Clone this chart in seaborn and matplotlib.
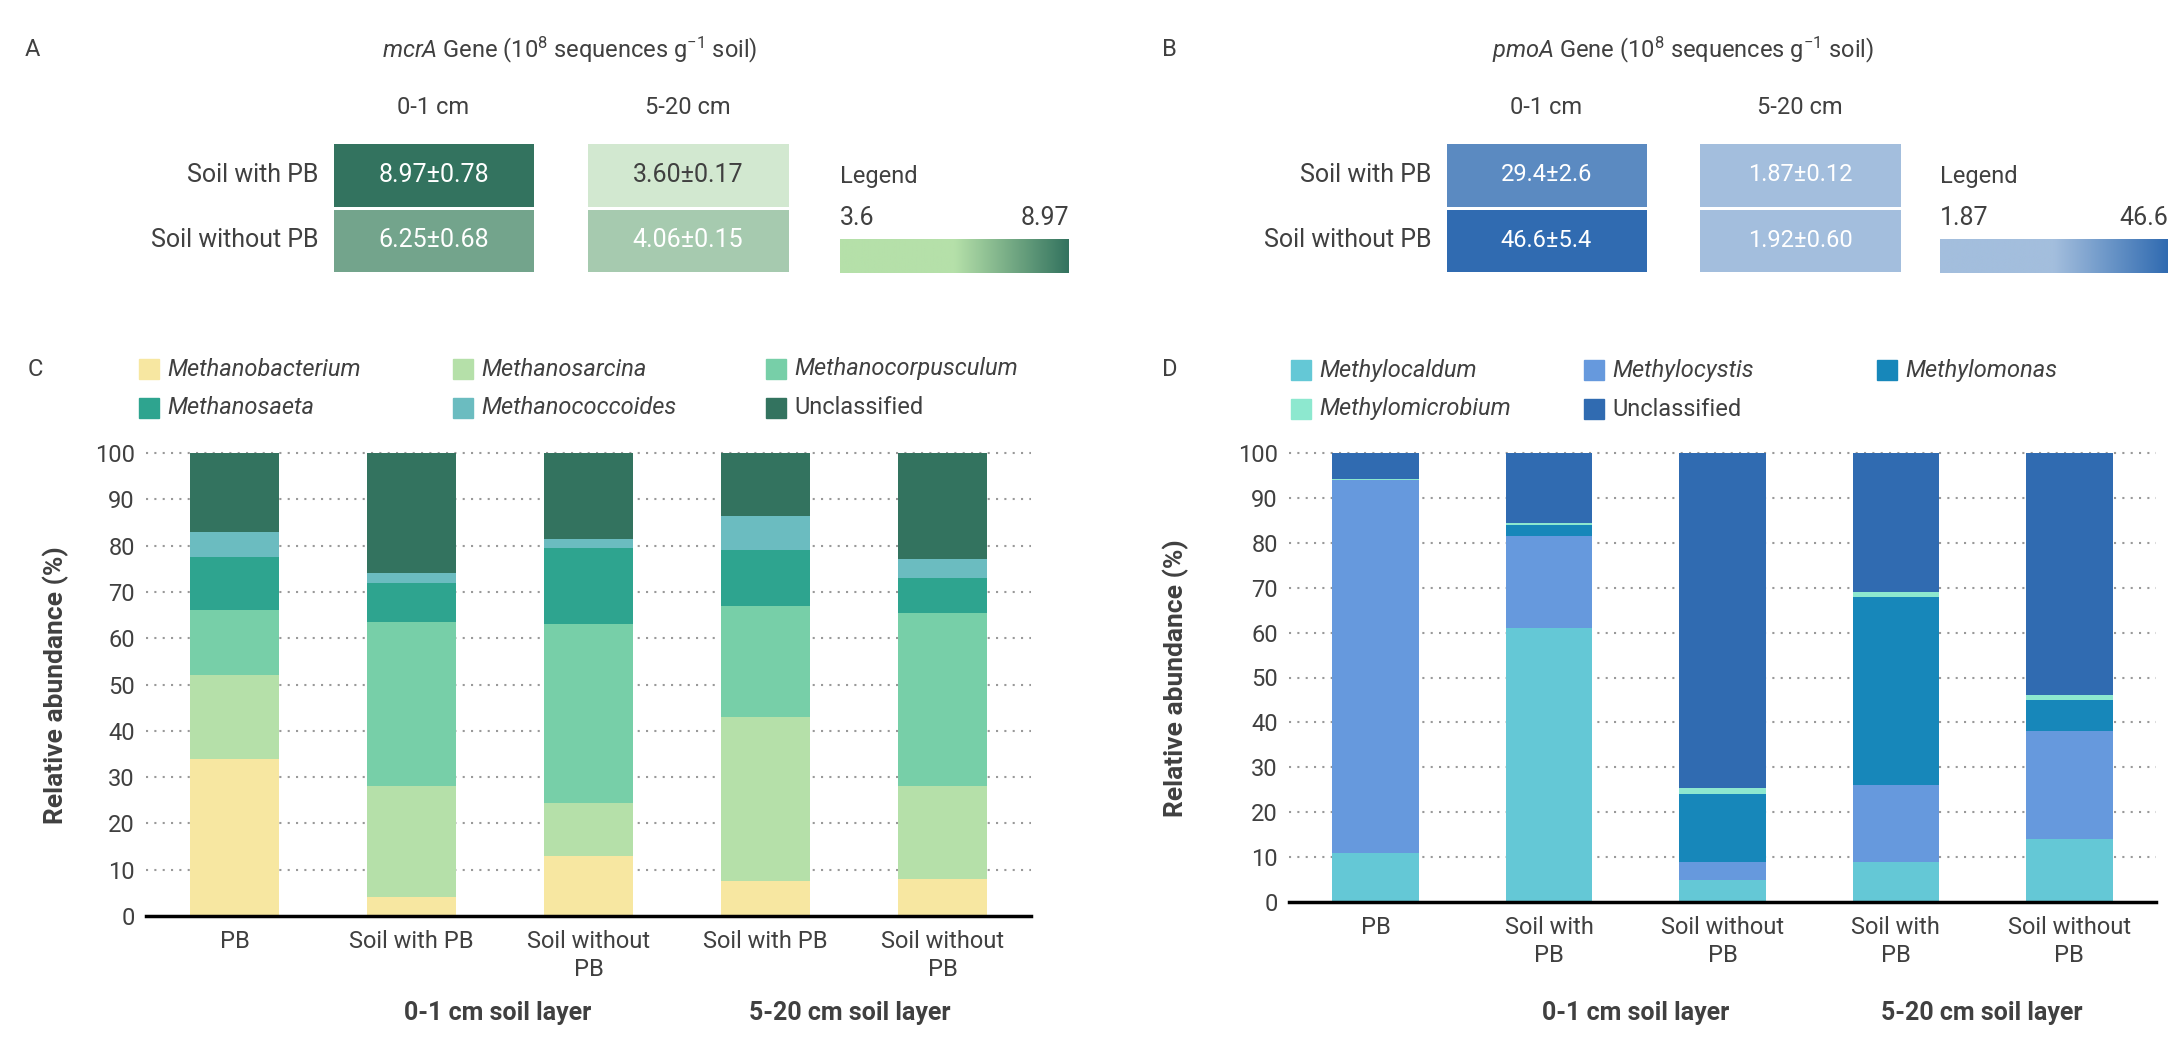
import numpy as np
import pandas as pd
import matplotlib
matplotlib.use("Agg")
import matplotlib.pyplot as plt
import seaborn as sns
from matplotlib.colors import LinearSegmentedColormap
from matplotlib.patches import Patch

sns.set_theme(style="white")
plt.rcParams['font.family'] = ['Roboto', 'DejaVu Sans']
plt.rcParams['mathtext.fontset'] = 'custom'
plt.rcParams['mathtext.rm'] = 'Roboto'
plt.rcParams['mathtext.it'] = 'Roboto:italic'
TXT = '#404040'

# ---------------- data ----------------
heat_rows = ["Soil with PB", "Soil without PB"]
heat_cols = ["0-1 cm", "5-20 cm"]
mcrA_vals = [[8.97, 3.60], [6.25, 4.06]]
mcrA_err = [[0.78, 0.17], [0.68, 0.15]]
mcrA_lbl = [["8.97±0.78", "3.60±0.17"], ["6.25±0.68", "4.06±0.15"]]
pmoA_vals = [[29.4, 1.87], [46.6, 1.92]]
pmoA_lbl = [["29.4±2.6", "1.87±0.12"], ["46.6±5.4", "1.92±0.60"]]

samples = ["PB", "Soil with PB", "Soil without\nPB", "Soil with PB", "Soil without\nPB"]
samples_d = ["PB", "Soil with\nPB", "Soil without\nPB", "Soil with\nPB", "Soil without\nPB"]

mcr_taxa = ["Methanobacterium", "Methanosarcina", "Methanocorpusculum",
            "Methanosaeta", "Methanococcoides", "Unclassified"]
Methanobacterium = [34, 4, 13, 7.5, 8]
Methanosarcina = [18, 24, 11.5, 35.5, 20]
Methanocorpusculum = [14, 35.5, 38.5, 24, 37.5]
Methanosaeta = [11.5, 8.5, 16.5, 12, 7.5]
Methanococcoides = [5.5, 2, 2, 7.5, 4]
Unclassified_mcr = [17, 26, 18.5, 13.5, 23]
mcr_colors = ["#F7E7A1", "#B5E0A9", "#77CFA8", "#2EA48F", "#6BBCC0", "#33735F"]

pmo_taxa = ["Methylocaldum", "Methylocystis", "Methylomonas", "Methylomicrobium", "Unclassified"]
Methylocaldum = [11, 61, 5, 9, 14]
Methylocystis = [83, 20.5, 4, 17, 24]
Methylomonas = [0, 2.5, 15, 42, 7]
Methylomicrobium = [0.3, 0.5, 1.5, 1, 1]
Unclassified_pmo = [5.7, 15.5, 74.5, 31, 54]
pmo_colors = ["#64C8D6", "#6699DD", "#1787BA", "#8DE8CF", "#306BB1"]

W, H = 2184, 1055
fig = plt.figure(figsize=(W / 100, H / 100), dpi=100)

def rect(l, t, r, b):
    return [l / W, 1 - b / H, (r - l) / W, (b - t) / H]

def ftext(x, y, s, **kw):
    kw.setdefault('color', TXT)
    fig.text(x / W, 1 - y / H, s, **kw)

# ---------------- heatmaps ----------------
def heat_panel(vals, lbls, vmap, colx, legx, grad, lo, hi, title, tx, rowx, fs, dark_cells):
    vals = np.array(vals)
    vs = sorted(vmap.keys())
    vmin, vmax = vs[0], vs[-1]
    cmap = LinearSegmentedColormap.from_list(
        "c", [((v - vmin) / (vmax - vmin), vmap[v]) for v in vs])
    for j, (l, r) in enumerate(colx):
        ax = fig.add_axes(rect(l, 142, r, 273))
        df = pd.DataFrame(vals[:, [j]], index=heat_rows, columns=[heat_cols[j]])
        sns.heatmap(df, ax=ax, cmap=cmap, vmin=vmin, vmax=vmax, cbar=False,
                    annot=np.array(lbls)[:, [j]], fmt="", linewidths=1, linecolor='white',
                    annot_kws={'fontsize': fs, 'color': 'white'})
        for k, t in enumerate(ax.texts):
            if (k, j) in dark_cells:
                t.set_color(TXT)
        ax.set_xticks([]); ax.set_ylabel(""); ax.set_xlabel("")
        if j == 0:
            ax.set_yticklabels(heat_rows, rotation=0, fontsize=18, color=TXT)
            ax.tick_params(axis='y', length=0, pad=10)
        else:
            ax.set_yticks([])
        ftext((l + r) / 2, 108, heat_cols[j], ha='center', va='center', fontsize=17)
    lax = fig.add_axes(rect(legx[0], 239, legx[1], 273))
    gcm = LinearSegmentedColormap.from_list("g", grad)
    lax.imshow(np.linspace(0, 1, 256)[None, :], aspect='auto', cmap=gcm)
    lax.set_axis_off()
    ftext(legx[0], 176, "Legend", ha='left', va='center', fontsize=17)
    ftext(legx[0], 218, lo, ha='left', va='center', fontsize=18)
    ftext(legx[1], 218, hi, ha='right', va='center', fontsize=18)
    ftext(tx, 50, title, ha='center', va='center', fontsize=17)

heat_panel(mcrA_vals, mcrA_lbl,
           {3.60: "#D2E8D0", 4.06: "#A4C9AE", 6.25: "#73A48C", 8.97: "#33735F"},
           [(332, 535), (586, 790)], (840, 1069), ["#B5E0A9", "#B5E0A9", "#33735F"],
           "3.6", "8.97", r"$\it{mcrA}$ Gene (10$^8$ sequences g$^{-1}$ soil)", 570, 309, 18,
           {(0, 1)})
heat_panel(pmoA_vals, pmoA_lbl,
           {1.87: "#A3BEDD", 1.92: "#6E99CB", 29.4: "#5B8AC1", 46.6: "#306BB1"},
           [(1445, 1648), (1698, 1902)], (1940, 2168), ["#A3BEDD", "#A3BEDD", "#306BB1"],
           "1.87", "46.6", r"$\it{pmoA}$ Gene (10$^8$ sequences g$^{-1}$ soil)", 1683, 1421, 17,
           set())

# ---------------- stacked bars ----------------
def stacked(ax, series, taxa, colors, labels):
    ids = [str(i) for i in range(len(labels))]
    cum = np.cumsum(np.array(series, dtype=float), axis=0)
    for y in range(10, 101, 10):
        ax.axhline(y, color='#999999', ls=(0, (1, 3)), lw=1.5, zorder=0, clip_on=False)
    for k in range(len(taxa) - 1, -1, -1):
        df = pd.DataFrame({'s': ids, 'v': cum[k]})
        sns.barplot(data=df, x='s', y='v', order=ids, color=colors[k], ax=ax,
                    width=0.5, saturation=1, linewidth=0, zorder=2)
    ax.set_ylim(0, 100)
    ax.set_xlim(-0.5, len(labels) - 0.5)
    ax.set_yticks(range(0, 101, 10))
    ax.set_xticklabels(labels, fontsize=17, color=TXT, linespacing=1.3)
    ax.tick_params(axis='y', labelsize=17, labelcolor=TXT, length=0, pad=8)
    ax.tick_params(axis='x', length=0, pad=10)
    ax.set_xlabel(""); ax.set_ylabel("")
    for s in ['top', 'right', 'left']:
        ax.spines[s].set_visible(False)
    ax.spines['bottom'].set_color('black'); ax.spines['bottom'].set_linewidth(2.5)
    ax.grid(False)

axC = fig.add_axes(rect(146, 453, 1031, 916))
stacked(axC, [Methanobacterium, Methanosarcina, Methanocorpusculum, Methanosaeta,
              Methanococcoides, Unclassified_mcr], mcr_taxa, mcr_colors, samples)
axD = fig.add_axes(rect(1289, 453, 2156, 902))
stacked(axD, [Methylocaldum, Methylocystis, Methylomonas, Methylomicrobium,
              Unclassified_pmo], pmo_taxa, pmo_colors, samples_d)

ftext(56, 685, "Relative abundance (%)", rotation=90, ha='center', va='center',
      fontsize=19, fontweight='bold')
ftext(1176, 678, "Relative abundance (%)", rotation=90, ha='center', va='center',
      fontsize=19, fontweight='bold')
for x, s in [(498, "0-1 cm soil layer"), (850, "5-20 cm soil layer")]:
    ftext(x, 1013, s, ha='center', va='center', fontsize=18, fontweight='bold')
for x, s in [(1636, "0-1 cm soil layer"), (1982, "5-20 cm soil layer")]:
    ftext(x, 1013, s, ha='center', va='center', fontsize=18, fontweight='bold')

def legend_rows(items, colors, xs, ys):
    n = len(xs)
    for i, (name, c) in enumerate(zip(items, colors)):
        x, y = xs[i % n], ys[i // n]
        fig.patches.append(matplotlib.patches.Rectangle(
            ((x) / W, 1 - (y + 10) / H), 20 / W, 20 / H, color=c, transform=fig.transFigure))
        ftext(x + 28, y, name, ha='left', va='center', fontsize=17,
              style='normal' if name == "Unclassified" else 'italic')

legend_rows(mcr_taxa, mcr_colors, [139, 453, 766], [369, 408])
legend_rows(pmo_taxa, pmo_colors, [1291, 1584, 1877], [370, 409])

for x, y, s in [(25, 50, "A"), (1162, 50, "B"), (28, 369, "C"), (1162, 369, "D")]:
    ftext(x, y, s, ha='left', va='center', fontsize=17)

fig.savefig("out.png", dpi=100)
